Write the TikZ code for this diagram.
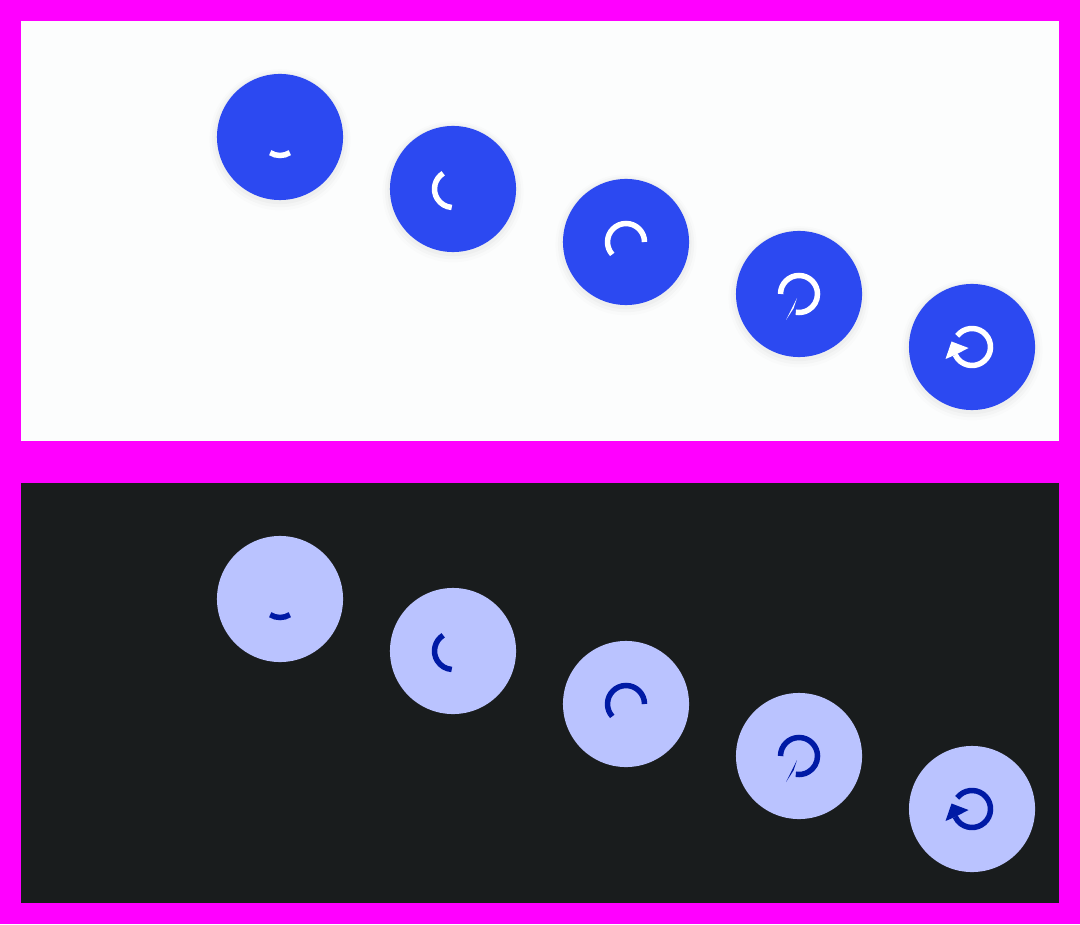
\documentclass[tikz,border=0pt]{standalone}
\usetikzlibrary{shadows}
\definecolor{frame}{HTML}{FF00FF}
\definecolor{lightbg}{HTML}{FCFDFD}
\definecolor{darkbg}{HTML}{191C1D}
\definecolor{fabblue}{HTML}{2C49F1}
\definecolor{fabpale}{HTML}{BAC3FF}
\definecolor{icondark}{HTML}{001AA5}
\tikzset{
  fablight/.style={shape=circle, inner sep=0pt, minimum size=1.26cm, fill=fabblue,
    general shadow={fill=black, opacity=.012, shadow yshift=-.025cm, shadow scale=1.12},
    general shadow={fill=black, opacity=.018, shadow yshift=-.02cm, shadow scale=1.08},
    general shadow={fill=black, opacity=.025, shadow yshift=-.015cm, shadow scale=1.04}},
  fabdark/.style={shape=circle, inner sep=0pt, minimum size=1.26cm, fill=fabpale},
  spinlight/.style={draw=white, line width=.055cm},
  spindark/.style={draw=icondark, line width=.055cm},
  tiplight/.style={fill=white},
  tipdark/.style={fill=icondark}
}
\begin{document}
\begin{tikzpicture}[x=0.01cm, y=0.01cm]
\fill[frame] (0,0) rectangle (1080,924);
\fill[lightbg] (21,483) rectangle (1059,903);
\fill[darkbg] (21,21) rectangle (1059,441);
% light row
\node[fablight] (a1) at (280,787) {};
\node[fablight] (a2) at (453,735) {};
\node[fablight] (a3) at (626,682) {};
\node[fablight] (a4) at (799,630) {};
\node[fablight] (a5) at (972,577) {};
\draw[spinlight] ([shift={(238:18.5)}]a1.center) arc (238:302:18.5);
\draw[spinlight] ([shift={(122:18.5)}]a2.center) arc (122:266:18.5);
\draw[spinlight] ([shift={(0:18.5)}]a3.center) arc (0:222:18.5);
\draw[spinlight] ([shift={(180:18.5)}]a4.center) arc (180:-100:18.5);
\draw[spinlight] ([shift={(143:18.5)}]a5.center) arc (143:-155:18.5);
\fill[tiplight] ([shift={(-13,-26)}]a4.center) -- ([shift={(-2,-4)}]a4.center) -- ([shift={(-5.5,-14.5)}]a4.center) -- cycle;
\fill[tiplight] ([shift={(-26.5,-12)}]a5.center) -- ([shift={(-20.5,5.5)}]a5.center) -- ([shift={(-3.5,-1)}]a5.center) -- ([shift={(-17,-8)}]a5.center) -- cycle;
% dark row
\node[fabdark] (b1) at (280,325) {};
\node[fabdark] (b2) at (453,273) {};
\node[fabdark] (b3) at (626,220) {};
\node[fabdark] (b4) at (799,168) {};
\node[fabdark] (b5) at (972,115) {};
\draw[spindark] ([shift={(238:18.5)}]b1.center) arc (238:302:18.5);
\draw[spindark] ([shift={(122:18.5)}]b2.center) arc (122:266:18.5);
\draw[spindark] ([shift={(0:18.5)}]b3.center) arc (0:222:18.5);
\draw[spindark] ([shift={(180:18.5)}]b4.center) arc (180:-100:18.5);
\draw[spindark] ([shift={(143:18.5)}]b5.center) arc (143:-155:18.5);
\fill[tipdark] ([shift={(-13,-26)}]b4.center) -- ([shift={(-2,-4)}]b4.center) -- ([shift={(-5.5,-14.5)}]b4.center) -- cycle;
\fill[tipdark] ([shift={(-26.5,-12)}]b5.center) -- ([shift={(-20.5,5.5)}]b5.center) -- ([shift={(-3.5,-1)}]b5.center) -- ([shift={(-17,-8)}]b5.center) -- cycle;
\end{tikzpicture}
\end{document}
